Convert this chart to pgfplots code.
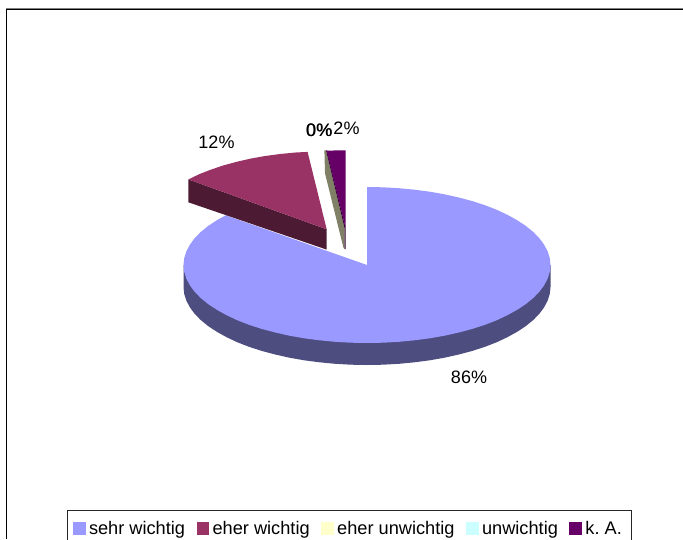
\documentclass[border=0pt]{standalone}
\usepackage{pgfplots}
\usepackage{fontspec}
\setmainfont{Liberation Sans}
\pgfplotsset{compat=1.18}
\definecolor{cA}{HTML}{9999FF}
\definecolor{cAs}{HTML}{4D4D80}
\definecolor{cB}{HTML}{993366}
\definecolor{cBs}{HTML}{4D1A33}
\definecolor{cC}{HTML}{FFFFCC}
\definecolor{cCs}{HTML}{808066}
\definecolor{cD}{HTML}{CCFFFF}
\definecolor{cE}{HTML}{660066}
\definecolor{cEs}{HTML}{330033}
\begin{document}
\begin{tikzpicture}
\useasboundingbox (0,0) rectangle (683pt,539pt);
\begin{axis}[
  at={(0pt,0pt)}, anchor=south west,
  scale only axis, width=683pt, height=539pt,
  xmin=0, xmax=683, ymin=0, ymax=539, y dir=reverse,
  axis lines=none, clip=false,
  font=\fontsize{18}{20}\selectfont,
  legend columns=5,
  legend cell align=left,
  legend image code/.code={\fill[draw=none,#1] (0pt,-6.5pt) rectangle (12.5pt,6.5pt);},
  legend style={
    at={(axis cs:66.5,510)}, anchor=north west,
    draw=black!85, line width=1pt, fill=white,
    font=\fontsize{18.2}{20}\selectfont,
    inner xsep=6pt, inner ysep=9pt,
    nodes={inner xsep=3.5pt, inner ysep=2pt, text depth=0.15em},
    /tikz/every even column/.append style={column sep=8pt},
  },
]
% frame
\addplot[forget plot, draw=black!50, line width=1pt] coordinates {(6,8) (683,8)};
\addplot[forget plot, draw=black, line width=1.2pt] coordinates {(683,9.4) (6.4,9.4) (6.4,539)};
% blue side
\addplot[forget plot, fill=cAs, draw=none] coordinates {
(550.5,265) (550.5,287) (549.8,293.8) (547.7,300.5) (544.2,307.2) (539.4,313.7) (533.3,320) (525.9,326) (517.3,331.7) (507.6,337.1) (496.8,342.2) (485,346.8) (472.3,350.9) (458.8,354.5) (444.5,357.7) (429.8,360.3) (414.5,362.3) (398.9,363.8) (383,364.7) (367,365)
(351,364.7) (335.1,363.8) (319.5,362.3) (304.2,360.3) (289.5,357.7) (275.2,354.5) (261.7,350.9) (249,346.8) (237.2,342.2) (226.4,337.1) (216.7,331.7) (208.1,326) (200.7,320) (194.6,313.7) (189.8,307.2) (186.3,300.5) (184.2,293.8) (183.5,287) (183.5,265)} -- cycle;
% blue top
\addplot[forget plot, fill=cA, draw=none] coordinates {
(367,265) (367,187) (383,187.3) (398.9,188.2) (414.5,189.7) (429.8,191.7) (444.5,194.3) (458.8,197.5) (472.3,201.1) (485,205.2) (496.8,209.8) (507.6,214.9) (517.3,220.3) (525.9,226) (533.3,232) (539.4,238.3) (544.2,244.8) (547.7,251.5) (549.8,258.2) (550.5,265)
(549.8,271.8) (547.7,278.5) (544.2,285.2) (539.4,291.7) (533.3,298) (525.9,304) (517.3,309.7) (507.6,315.1) (496.8,320.2) (485,324.8) (472.3,328.9) (458.8,332.5) (444.5,335.7) (429.8,338.3) (414.5,340.3) (398.9,341.8) (383,342.7) (367,343)
(351,342.7) (335.1,341.8) (319.5,340.3) (304.2,338.3) (289.5,335.7) (275.2,332.5) (261.7,328.9) (249,324.8) (237.2,320.2) (226.4,315.1) (216.7,309.7) (208.1,304) (200.7,298) (194.6,291.7) (189.8,285.2) (186.3,278.5) (184.2,271.8) (183.5,265)
(184.2,258.2) (186.3,251.5) (189.8,244.8) (194.6,238.3) (200.7,232) (208.1,226) (216.7,220.3) (225.7,215.3)} -- cycle;
% red side
\addplot[forget plot, fill=cBs, draw=none] coordinates {(188.4,179.4) (326.7,229.3) (326.7,249.6) (188.4,202.3)} -- cycle;
% red top
\addplot[forget plot, fill=cB, draw=none] coordinates {
(326.7,229.3) (188.4,179.4) (199.4,174.1) (211,169.6) (223.4,165.4) (236.7,161.8) (250.6,158.6) (265.1,156) (280.1,154) (295.5,152.5) (307.6,151.9)} -- cycle;
% zero slice side
\addplot[forget plot, fill=cCs, draw=none] coordinates {(324.4,150.3) (326,150.3) (344.5,228) (344.7,249) (343.5,248) (325,173.3)} -- cycle;
% k.A. side
\addplot[forget plot, fill=cEs, draw=none] coordinates {(326,150.3) (327,150.5) (345.6,228) (345.6,249) (344.7,249) (344.5,228)} -- cycle;
% k.A. top
\addplot[forget plot, fill=cE, draw=none] coordinates {(345.6,228.3) (345.7,150.3) (340,150.4) (333,150.5) (326.7,150.6)} -- cycle;
% labels
\node at (axis cs:216.5,142) {12\%};
\node at (axis cs:319,130.5) {0\%};
\node at (axis cs:319.5,130.5) {0\%};
\node at (axis cs:346.5,128.5) {2\%};
\node at (axis cs:469,377.5) {86\%};
% legend
\addlegendimage{fill=cA}\addlegendentry{sehr wichtig}
\addlegendimage{fill=cB}\addlegendentry{eher wichtig}
\addlegendimage{fill=cC}\addlegendentry{eher unwichtig}
\addlegendimage{fill=cD}\addlegendentry{unwichtig}
\addlegendimage{fill=cE}\addlegendentry{k.\ A.}
\end{axis}
\end{tikzpicture}
\end{document}
